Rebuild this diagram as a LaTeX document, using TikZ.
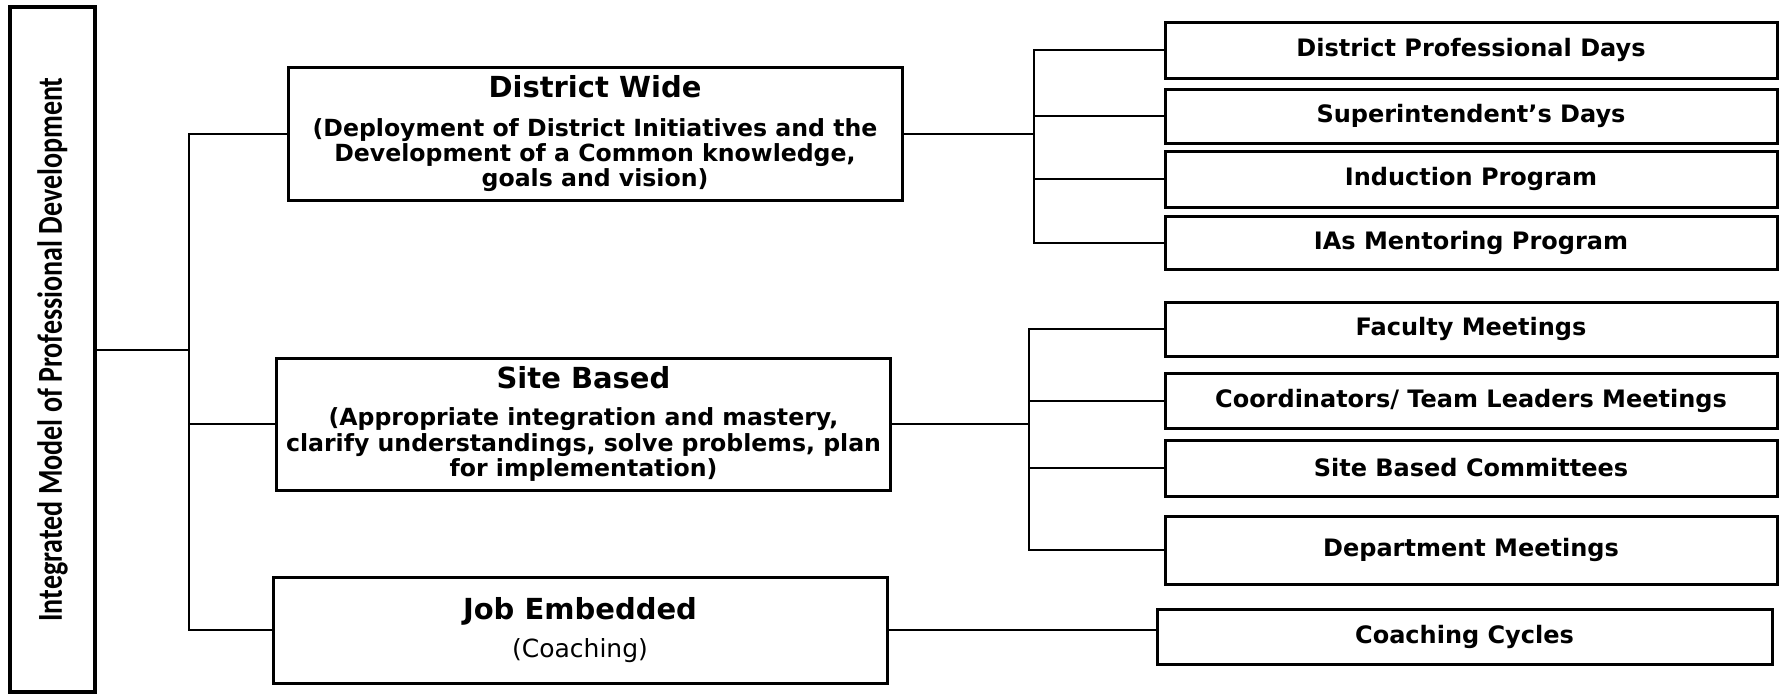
\documentclass[tikz,border=0pt]{standalone}
\usepackage{fontspec}
\setmainfont{Carlito}
\newfontfamily\boxfont{DejaVu Sans}
\newfontfamily\condensed[FakeStretch=0.8]{Carlito}
\usetikzlibrary{positioning}

\tikzset{
  outline/.style={draw, line width=1.5pt, inner sep=0pt, align=center},
  areabox/.style={outline, minimum width=307pt, font=\boxfont\bfseries\fontsize{11.8}{12.6}\selectfont},
  itembox/.style={outline, minimum width=306pt, font=\boxfont\bfseries\fontsize{12}{14}\selectfont},
  link/.style={line width=1pt}
}

\begin{document}
\begin{tikzpicture}[x=0.5pt, y=-0.5pt]
  \useasboundingbox (0,0) rectangle (1779,696);

  % Model title, text turned up
  \node[outline, line width=1.7pt, minimum width=42.5pt, minimum height=342.5pt,
        font=\condensed\bfseries\fontsize{17.5}{20}\selectfont] (model) at (52.5,349.5)
        {\rotatebox{90}{Integrated Model of Professional Development}};

  % Three areas
  \node[areabox, minimum height=66.5pt] (dw) at (595,133.5)
        {{\fontsize{14.5}{16}\selectfont District Wide}\\[7pt]
         (Deployment of District Initiatives and the\\
         Development of a Common knowledge,\\
         goals and vision)};
  \node[areabox, minimum height=66pt] (sb) at (583.5,424)
        {{\fontsize{14.5}{16}\selectfont Site Based}\\[6pt]
         (Appropriate integration and mastery,\\
         clarify understandings, solve problems, plan\\
         for implementation)};
  \node[areabox, minimum height=53pt] (je) at (580,630)
        {{\fontsize{14.5}{16}\selectfont Job Embedded}\\[6pt]
         {\mdseries\fontsize{12.5}{14}\selectfont (Coaching)}};

  % District wide items
  \node[itembox, minimum height=28pt] (dpd) at (1471,50) {District Professional Days};
  \node[itembox, minimum height=27pt] (sd) at (1471,116) {Superintendent’s Days};
  \node[itembox, minimum height=28pt] (ip) at (1471,179) {Induction Program};
  \node[itembox, minimum height=26.5pt] (ias) at (1471,242.5) {IAs Mentoring Program};

  % Site based items
  \node[itembox, minimum height=27pt] (fm) at (1471,329) {Faculty Meetings};
  \node[itembox, minimum height=27.5pt] (ctl) at (1471,400.5) {Coordinators/ Team Leaders Meetings};
  \node[itembox, minimum height=28pt] (sbc) at (1471,468) {Site Based Committees};
  \node[itembox, minimum height=34pt] (dm) at (1471,550) {Department Meetings};

  % Job embedded item
  \node[itembox, minimum width=307.5pt, minimum height=27.5pt] (cc) at (1464.5,636.5) {Coaching Cycles};

  % Connectors
  \draw[link] (model.east) -- ++(92,0) coordinate (trunk);
  \foreach \a in {dw,sb,je}
    \draw[link] (\a.west) -| (trunk);

  \draw[link] (dw.east) -- ++(130,0) coordinate (dwbus);
  \foreach \b in {dpd,sd,ip,ias}
    \draw[link] (\b.west) -| (dwbus);

  \draw[link] (sb.east) -- ++(137,0) coordinate (sbbus);
  \foreach \b in {fm,ctl,sbc,dm}
    \draw[link] (\b.west) -| (sbbus);

  \draw[link] (je.east) -- (je.east -| cc.west);
\end{tikzpicture}
\end{document}
